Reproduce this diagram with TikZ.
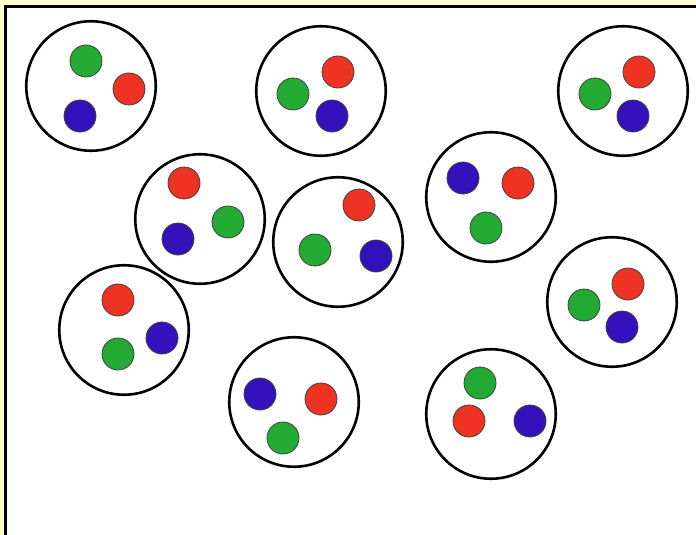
\documentclass[tikz,border=0pt]{standalone}
\begin{document}
\begin{tikzpicture}[x=1pt,y=-1pt,
  group/.style={circle,draw=black,line width=2.6pt,fill=white,minimum size=129.5pt,inner sep=0pt},
  dot/.style={circle,draw=black!75,line width=0.8pt,minimum size=32pt,inner sep=0pt},
  g/.style={dot,fill=dgreen},
  r/.style={dot,fill=dred},
  b/.style={dot,fill=dblue}]
\definecolor{dgreen}{RGB}{34,170,51}
\definecolor{dred}{RGB}{238,51,34}
\definecolor{dblue}{RGB}{51,17,187}
\definecolor{bgyellow}{RGB}{255,255,204}
\useasboundingbox (0,0) rectangle (696,535);
\fill[bgyellow] (0,0) rectangle (696,535);
\fill[white] (5,6) rectangle (696,535);
\draw[line width=3pt] (5.5,535) -- (5.5,6.5) -- (696,6.5);
% groups
\node[group] (c1) at (91,86) {};
\node[g] (c1g) at (86,61) {};
\node[r] (c1r) at (129,89) {};
\node[b] (c1b) at (80,116) {};
\node[group] (c2) at (321,91) {};
\node[r] (c2r) at (338,72) {};
\node[g] (c2g) at (293,94) {};
\node[b] (c2b) at (332,116) {};
\node[group] (c3) at (623,91) {};
\node[r] (c3r) at (639,72) {};
\node[g] (c3g) at (595,94) {};
\node[b] (c3b) at (633,116) {};
\node[group] (c4) at (200,219) {};
\node[r] (c4r) at (184,183) {};
\node[g] (c4g) at (228,222) {};
\node[b] (c4b) at (178,239) {};
\node[group] (c5) at (338,242) {};
\node[r] (c5r) at (359,205) {};
\node[g] (c5g) at (315,250) {};
\node[b] (c5b) at (376,256) {};
\node[group] (c6) at (491,197) {};
\node[b] (c6b) at (463,178) {};
\node[r] (c6r) at (518,183) {};
\node[g] (c6g) at (486,228) {};
\node[group] (c7) at (124,330) {};
\node[r] (c7r) at (118,300) {};
\node[b] (c7b) at (162,338) {};
\node[g] (c7g) at (118,354) {};
\node[group] (c8) at (612,302) {};
\node[r] (c8r) at (628,284) {};
\node[g] (c8g) at (584,305) {};
\node[b] (c8b) at (622,327) {};
\node[group] (c9) at (294,402) {};
\node[b] (c9b) at (260,394) {};
\node[r] (c9r) at (321,399) {};
\node[g] (c9g) at (283,438) {};
\node[group] (c10) at (491,414) {};
\node[g] (c10g) at (480,383) {};
\node[r] (c10r) at (469,421) {};
\node[b] (c10b) at (530,421) {};
\end{tikzpicture}
\end{document}
